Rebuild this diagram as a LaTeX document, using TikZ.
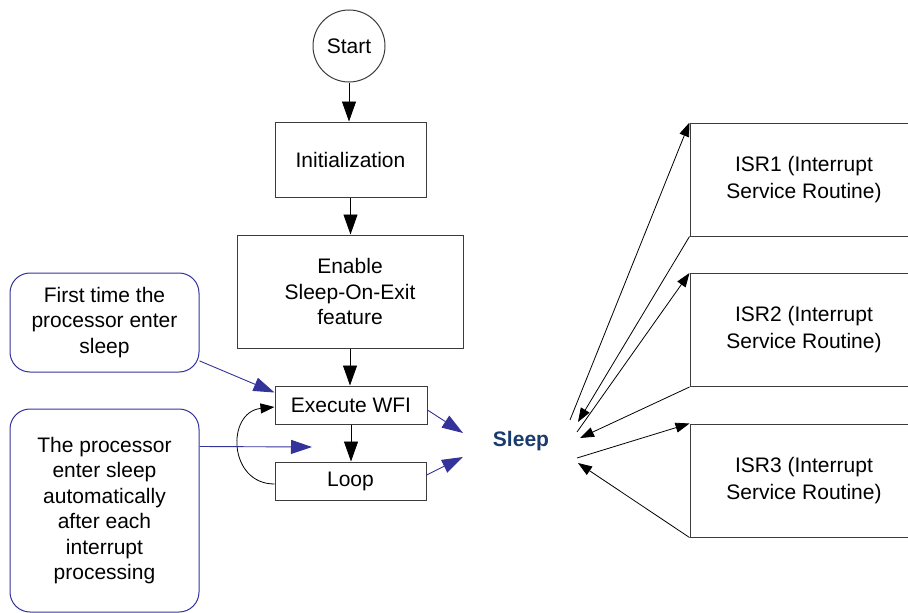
\documentclass[tikz,border=0pt]{standalone}
\usepackage{fontspec}
\setmainfont{Liberation Sans}
\usetikzlibrary{arrows.meta,calc}
\definecolor{noteblue}{RGB}{51,51,153}
\definecolor{sleepblue}{RGB}{25,60,110}
\definecolor{boxline}{RGB}{60,60,60}
\begin{document}
\begin{tikzpicture}[x=1pt,y=-1pt,
  every node/.style={font=\fontsize{21}{25.5}\selectfont},
  flowbox/.style={draw=boxline,line width=1pt,rectangle,inner sep=0pt,align=center},
  isrbox/.style={flowbox,minimum width=228,minimum height=113,font=\fontsize{21}{27}\selectfont},
  notebox/.style={draw=noteblue,line width=1pt,rounded corners=20,inner sep=0pt,align=center,minimum width=189},
  bigarrow/.style={-{Triangle[length=20,width=14]},line width=0.9pt,black},
  smallarrow/.style={-{Triangle[length=14,width=10]},line width=0.8pt,black},
  bluearrow/.style={-{Triangle[length=21,width=14]},line width=0.9pt,noteblue}]
\clip (0,0) rectangle (908,613);
\fill[white] (0,0) rectangle (908,613);
% flow
\node[flowbox,circle,minimum size=72] (start) at (349,46) {Start};
\node[flowbox,minimum width=151,minimum height=75] (init) at (350.5,159.5) {Initialization};
\node[flowbox,minimum width=226,minimum height=113] (enable) at (350,291.5) {Enable\\Sleep-On-Exit\\feature};
\node[flowbox,minimum width=152,minimum height=38] (exec) at (351,405) {Execute WFI};
\node[flowbox,minimum width=151,minimum height=38] (loop) at (350.5,481) {Loop};
\draw[bigarrow] (start) -- (start |- init.north);
\draw[bigarrow] (init) -- (init |- enable.north);
\draw[bigarrow] (enable) -- (enable |- exec.north);
\draw[bigarrow] (exec) -- (exec |- loop.north);
\draw[smallarrow] (loop.west) ++(0,3) .. controls (228,484) and (226,412) .. (exec.west |- 0,407);
% notes
\node[notebox,minimum height=99] (first) at (104.5,322.5) {First time the\\processor enter\\sleep};
\node[notebox,minimum height=203] (proc) at (104.5,510.5) {The processor\\enter sleep\\automatically\\after each\\interrupt\\processing};
% sleep
\node[font=\fontsize{21}{25}\selectfont\bfseries,text=sleepblue] (sleep) at (521,441) {Sleep};
\coordinate (sA) at (463,433);
\coordinate (sB) at (463,457);
\coordinate (sC) at (312,447);
\draw[bluearrow] (first.-22) -- ($(exec.north west)+(0,7)$);
\draw[bluearrow] ($(proc.north east)+(0,38)$) -- (sC);
\draw[bluearrow] ($(exec.east)+(0,5)$) -- (sA);
\draw[bluearrow] ($(loop.east)+(0,-6)$) -- (sB);
% ISRs
\node[isrbox] (isr1) at (804,179.5) {ISR1 (Interrupt\\Service Routine)};
\node[isrbox] (isr2) at (804,330) {ISR2 (Interrupt\\Service Routine)};
\node[isrbox] (isr3) at (804,480.5) {ISR3 (Interrupt\\Service Routine)};
\coordinate (o1) at (570,420);
\coordinate (i1) at (578,422);
\coordinate (o2) at (577,432);
\coordinate (i2) at (580,438);
\coordinate (o3) at (577,458);
\coordinate (i3) at (578,463);
\draw[smallarrow] (o1) -- (isr1.north west);
\draw[smallarrow] (isr1.south west) -- (i1);
\draw[smallarrow] (o2) -- (isr2.north west);
\draw[smallarrow] (isr2.south west) -- (i2);
\draw[smallarrow] (o3) -- (isr3.north west);
\draw[smallarrow] (isr3.south west) -- (i3);
\end{tikzpicture}
\end{document}
